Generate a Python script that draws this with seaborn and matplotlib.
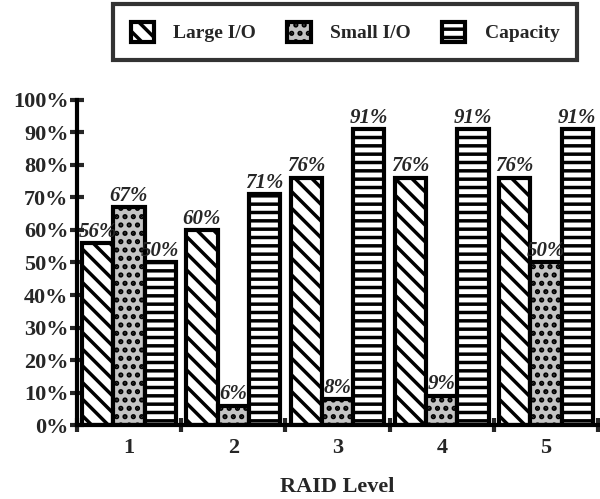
import matplotlib
matplotlib.use("Agg")
import matplotlib.pyplot as plt
import pandas as pd
import seaborn as sns
from matplotlib.patches import Patch

# Data
raid_levels = ["1", "2", "3", "4", "5"]
large_io = [56, 60, 76, 76, 76]
small_io = [67, 6, 8, 9, 50]
capacity = [50, 71, 91, 91, 91]
series = ["Large I/O", "Small I/O", "Capacity"]
y_ticks = [0, 10, 20, 30, 40, 50, 60, 70, 80, 90, 100]

df = pd.DataFrame({
    "level": raid_levels * 3,
    "value": large_io + small_io + capacity,
    "series": [s for s in series for _ in raid_levels],
})

sns.set_style("white")
plt.rcParams["font.family"] = ["Liberation Serif", "DejaVu Serif"]
plt.rcParams["font.weight"] = "bold"
plt.rcParams["hatch.linewidth"] = 2.5
plt.rcParams["hatch.color"] = "black"

fig = plt.figure(figsize=(6, 4.99), dpi=100)
ax = fig.add_axes([0.128, 0.148, 0.869, 0.652])

faces = ["white", "#c4c4c4", "white"]
sns.barplot(data=df, x="level", y="value", hue="series", hue_order=series,
            order=raid_levels, width=0.9, palette=faces,
            edgecolor="black", linewidth=3, legend=False, ax=ax)

hatches = ["\\\\", "..", "--"]
for cont, h, fc in zip(ax.containers, hatches, faces):
    for bar in cont:
        bar.set_hatch(h)
        bar.set_facecolor(fc)
    ax.bar_label(cont, labels=[f"{int(v)}%" for v in cont.datavalues],
                 padding=1, fontsize=15, fontweight="bold", style="italic")

ax.set_ylim(0, 100)
ax.set_xlim(-0.5, 4.5)
ax.set_yticks(y_ticks)
ax.set_yticklabels([f"{t}%" for t in y_ticks], fontsize=16, fontweight="bold")
ax.tick_params(axis="y", direction="inout", length=10, width=3, pad=1, left=True)
ax.set_xticks(range(5))
ax.set_xticklabels(raid_levels, fontsize=16, fontweight="bold")
ax.tick_params(axis="x", length=0, pad=9)
ax.set_xticks([-0.5, 0.5, 1.5, 2.5, 3.5, 4.5], minor=True)
ax.tick_params(axis="x", which="minor", direction="inout", length=10, width=3,
               bottom=True)
ax.set_xlabel("RAID Level", fontsize=16, fontweight="bold", labelpad=14)
ax.set_ylabel("")

for side in ["top", "right"]:
    ax.spines[side].set_visible(False)
for side in ["left", "bottom"]:
    ax.spines[side].set_linewidth(3)
    ax.spines[side].set_color("black")

handles = [Patch(facecolor=fc, edgecolor="black", hatch=h, linewidth=3)
           for h, fc in zip(hatches, faces)]
leg = fig.legend(handles, series, loc="center", bbox_to_anchor=(0.575, 0.936),
                 ncol=3, frameon=True, fontsize=14, handlelength=1.2,
                 handleheight=1.2, columnspacing=1.6, handletextpad=1.0,
                 borderpad=0.9, borderaxespad=0, fancybox=False)
leg.get_frame().set_edgecolor("black")
leg.get_frame().set_linewidth(3)
for t in leg.get_texts():
    t.set_fontweight("bold")

fig.savefig("out.png", dpi=100)
